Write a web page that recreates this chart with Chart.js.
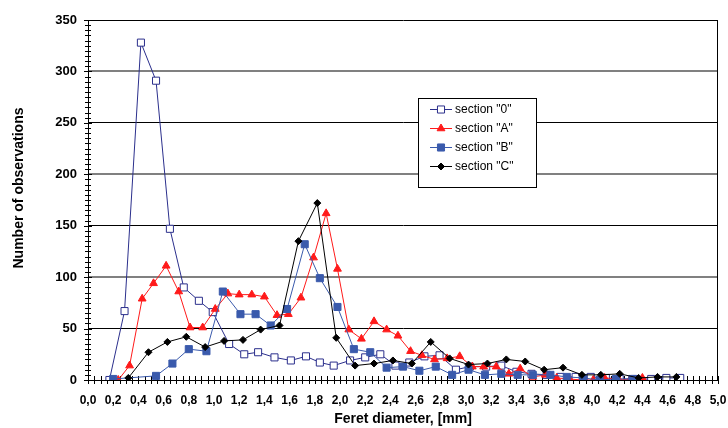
<!DOCTYPE html>
<html>
<head>
<meta charset="utf-8">
<script src="https://cdn.jsdelivr.net/npm/chart.js@4"></script>
<style>
  html, body { margin: 0; padding: 0; background: #fff; }
  #box { width: 728px; height: 428px; }
</style>
</head>
<body>
<div id="box"><canvas id="ChartFeret"></canvas></div>
<script>
// Feret diameter [mm] / number of observations
var sec0X = [0.17, 0.29, 0.42, 0.54, 0.65, 0.76, 0.88, 0.99, 1.12, 1.24, 1.35, 1.48, 1.61, 1.73, 1.84, 1.95, 2.08, 2.20, 2.32, 2.44, 2.55, 2.67, 2.79, 2.92, 3.03, 3.16, 3.28, 3.40, 3.52, 3.64, 3.75, 3.87, 3.99, 4.11, 4.22, 4.34, 4.47, 4.59, 4.70];
var sec0Y = [0, 67, 328, 291, 147, 90, 77, 66, 35, 25, 27, 22, 19, 23, 17, 14, 19, 22, 25, 14, 17, 23, 24, 10, 13, 13, 14, 8, 6, 5, 3, 3, 3, 2, 1, 1, 1, 2, 2];

var secAX = [0.24, 0.33, 0.43, 0.52, 0.62, 0.72, 0.81, 0.91, 1.01, 1.11, 1.20, 1.30, 1.40, 1.50, 1.59, 1.69, 1.79, 1.89, 1.98, 2.07, 2.17, 2.27, 2.37, 2.46, 2.56, 2.65, 2.75, 2.85, 2.95, 3.05, 3.14, 3.24, 3.34, 3.43, 3.53, 3.63, 3.72, 3.82, 3.92, 4.01, 4.10, 4.21, 4.30, 4.40];
var secAY = [0, 14, 79, 94, 111, 86, 51, 51, 69, 84, 83, 83, 81, 63, 64, 80, 119, 162, 108, 49, 40, 57, 49, 43, 28, 24, 20, 21, 23, 13, 13, 13, 6, 11, 3, 5, 2, 1, 0, 0, 2, 1, 0, 2];

var secBX = [0.20, 0.54, 0.67, 0.80, 0.94, 1.07, 1.21, 1.33, 1.45, 1.58, 1.72, 1.84, 1.98, 2.11, 2.24, 2.37, 2.50, 2.63, 2.76, 2.89, 3.02, 3.15, 3.28, 3.41, 3.53, 3.67, 3.80, 3.93, 4.06, 4.19, 4.32];
var secBY = [1, 4, 16, 30, 28, 86, 64, 64, 53, 69, 132, 99, 71, 30, 27, 12, 13, 9, 13, 5, 10, 5, 6, 5, 5, 5, 3, 2, 0, 1, 1];

var secCX = [0.32, 0.48, 0.63, 0.78, 0.93, 1.08, 1.23, 1.37, 1.52, 1.67, 1.82, 1.97, 2.12, 2.27, 2.42, 2.57, 2.72, 2.87, 3.02, 3.17, 3.32, 3.47, 3.62, 3.77, 3.92, 4.07, 4.22, 4.37, 4.52, 4.67];
var secCY = [2, 27, 37, 42, 32, 38, 39, 49, 53, 135, 172, 41, 14, 16, 19, 16, 37, 21, 15, 16, 20, 18, 10, 12, 5, 5, 6, 2, 3, 3];

var seriesNames = ['section "0"', 'section "A"', 'section "B"', 'section "C"'];

var xMin = 0, xMax = 5, xStep = 0.2, xMinor = 0.05;
var yMin = 0, yMax = 350, yStep = 50, yMinor = 5;

var xTitle = 'Feret diameter, [mm]';
var yTitle = 'Number of observations';

function pairs(xs, ys) {
    return xs.map((v, i) => ({x: v, y: ys[i]}));
}

var FONT = "'Liberation Sans', Arial, sans-serif";

// ticks that cross the axes, plus the right frame line
const crossTicks = {
    id: 'crossTicks',
    beforeDatasetsDraw(chart) {
        const ctx = chart.ctx;
        const x = chart.scales.x, y = chart.scales.y;
        ctx.save();
        ctx.strokeStyle = '#000';
        ctx.lineWidth = 1;
        ctx.beginPath();
        let n = Math.round((xMax - xMin) / xMinor);
        for (let i = 0; i <= n; i++) {
            let px = Math.round(x.getPixelForValue(xMin + i * xMinor)) + 0.5;
            ctx.moveTo(px, y.bottom - 4);
            ctx.lineTo(px, y.bottom + 4);
        }
        n = Math.round((yMax - yMin) / yMinor);
        for (let i = 0; i <= n; i++) {
            let py = Math.round(y.getPixelForValue(yMin + i * yMinor)) + 0.5;
            let len = (i * yMinor) % yStep === 0 ? 4 : 3;
            ctx.moveTo(x.left - len, py);
            ctx.lineTo(x.left + len, py);
        }
        let rx = Math.round(x.right) - 0.5;
        ctx.moveTo(rx, y.top);
        ctx.lineTo(rx, y.bottom);
        ctx.stroke();
        ctx.restore();
    }
};

// y title and the boxed legend inside the plot
const extras = {
    id: 'extras',
    afterDraw(chart) {
        const ctx = chart.ctx;
        const area = chart.chartArea;
        ctx.save();
        ctx.fillStyle = '#000';
        ctx.font = 'bold 14px ' + FONT;
        ctx.textAlign = 'center';
        ctx.textBaseline = 'middle';
        ctx.translate(19, (area.top + area.bottom) / 2 - 12);
        ctx.rotate(-Math.PI / 2);
        ctx.fillText(yTitle, 0, 0);
        ctx.restore();

        let bx = Math.round(area.left + 0.524 * (area.right - area.left));
        let by = Math.round(area.top + 0.217 * (area.bottom - area.top));
        let bw = 118, bh = 89;
        ctx.save();
        ctx.fillStyle = '#fff';
        ctx.fillRect(bx, by, bw, bh);
        ctx.strokeStyle = '#000';
        ctx.lineWidth = 1;
        ctx.strokeRect(bx + 0.5, by + 0.5, bw, bh);
        ctx.font = '12px ' + FONT;
        ctx.textBaseline = 'middle';
        ctx.textAlign = 'left';
        chart.data.datasets.forEach((ds, i) => {
            let yy = by + 11.5 + i * 19;
            ctx.strokeStyle = ds.borderColor;
            ctx.lineWidth = 1;
            ctx.beginPath();
            ctx.moveTo(bx + 12, yy);
            ctx.lineTo(bx + 34, yy);
            ctx.stroke();
            ctx.fillStyle = ds.pointBackgroundColor;
            ctx.strokeStyle = ds.pointBorderColor;
            Chart.helpers.drawPoint(ctx, {
                pointStyle: ds.pointStyle,
                radius: ds.pointRadius,
                rotation: 0,
                borderWidth: 1
            }, bx + 23, yy);
            ctx.fillStyle = '#000';
            ctx.fillText(ds.label, bx + 37, yy + 0.5);
        });
        ctx.restore();
    }
};

var ctx = document.getElementById('ChartFeret').getContext('2d');

var myChart = new Chart(ctx, {
    type: 'line',
    data: {
        datasets: [{
            label: seriesNames[0],
            data: pairs(sec0X, sec0Y),
            borderColor: '#2b2f8c',
            borderWidth: 1,
            pointStyle: 'rect',
            pointRadius: 5,
            pointBackgroundColor: '#fff',
            pointBorderColor: '#2b2f8c',
            pointBorderWidth: 1,
            order: 4
        },
        {
            label: seriesNames[1],
            data: pairs(secAX, secAY),
            borderColor: '#ff1a1a',
            borderWidth: 1,
            pointStyle: 'triangle',
            pointRadius: 4.5,
            pointBackgroundColor: '#ff1a1a',
            pointBorderColor: '#ff1a1a',
            pointBorderWidth: 1,
            order: 3
        },
        {
            label: seriesNames[2],
            data: pairs(secBX, secBY),
            borderColor: '#3a5aac',
            borderWidth: 1,
            pointStyle: 'rect',
            pointRadius: 5,
            pointBackgroundColor: '#3a5aac',
            pointBorderColor: '#3a5aac',
            pointBorderWidth: 1,
            order: 2
        },
        {
            label: seriesNames[3],
            data: pairs(secCX, secCY),
            borderColor: '#000',
            borderWidth: 1,
            pointStyle: 'rectRot',
            pointRadius: 3.5,
            pointBackgroundColor: '#000',
            pointBorderColor: '#000',
            pointBorderWidth: 1,
            order: 1
        }]
    },
    options: {
        responsive: true,
        maintainAspectRatio: false,
        animation: false,
        devicePixelRatio: 1,
        layout: {padding: {left: 0, right: 10, top: 20, bottom: 0}},
        plugins: {
            legend: {display: false},
            tooltip: {enabled: false}
        },
        elements: {line: {tension: 0, fill: false}},
        scales: {
            x: {
                type: 'linear',
                min: xMin,
                max: xMax,
                afterFit: s => { s.height = 48; s.paddingRight = 0; s.paddingLeft = 0; },
                border: {color: '#000', width: 1},
                grid: {drawOnChartArea: false, drawTicks: false},
                ticks: {
                    stepSize: xStep,
                    autoSkip: false,
                    maxRotation: 0,
                    padding: 13,
                    color: '#000',
                    font: {family: FONT, size: 12, weight: 'bold'},
                    callback: v => v.toFixed(1).replace('.', ',')
                },
                title: {
                    display: true,
                    text: xTitle,
                    color: '#000',
                    padding: {top: 0, bottom: 0},
                    font: {family: FONT, size: 14, weight: 'bold'}
                }
            },
            y: {
                min: yMin,
                max: yMax,
                afterFit: s => { s.width = 88; },
                border: {color: '#000', width: 1},
                grid: {
                    drawTicks: false,
                    color: c => (c.tick.value % 100 === 0 && c.tick.value > 0) ? '#808080' : '#000',
                    lineWidth: c => (c.tick.value % 100 === 0 && c.tick.value > 0) ? 2 : 1
                },
                ticks: {
                    stepSize: yStep,
                    padding: 11,
                    color: '#000',
                    font: {family: FONT, size: 13, weight: 'bold'}
                }
            }
        }
    },
    plugins: [crossTicks, extras]
});
</script>
</body>
</html>
